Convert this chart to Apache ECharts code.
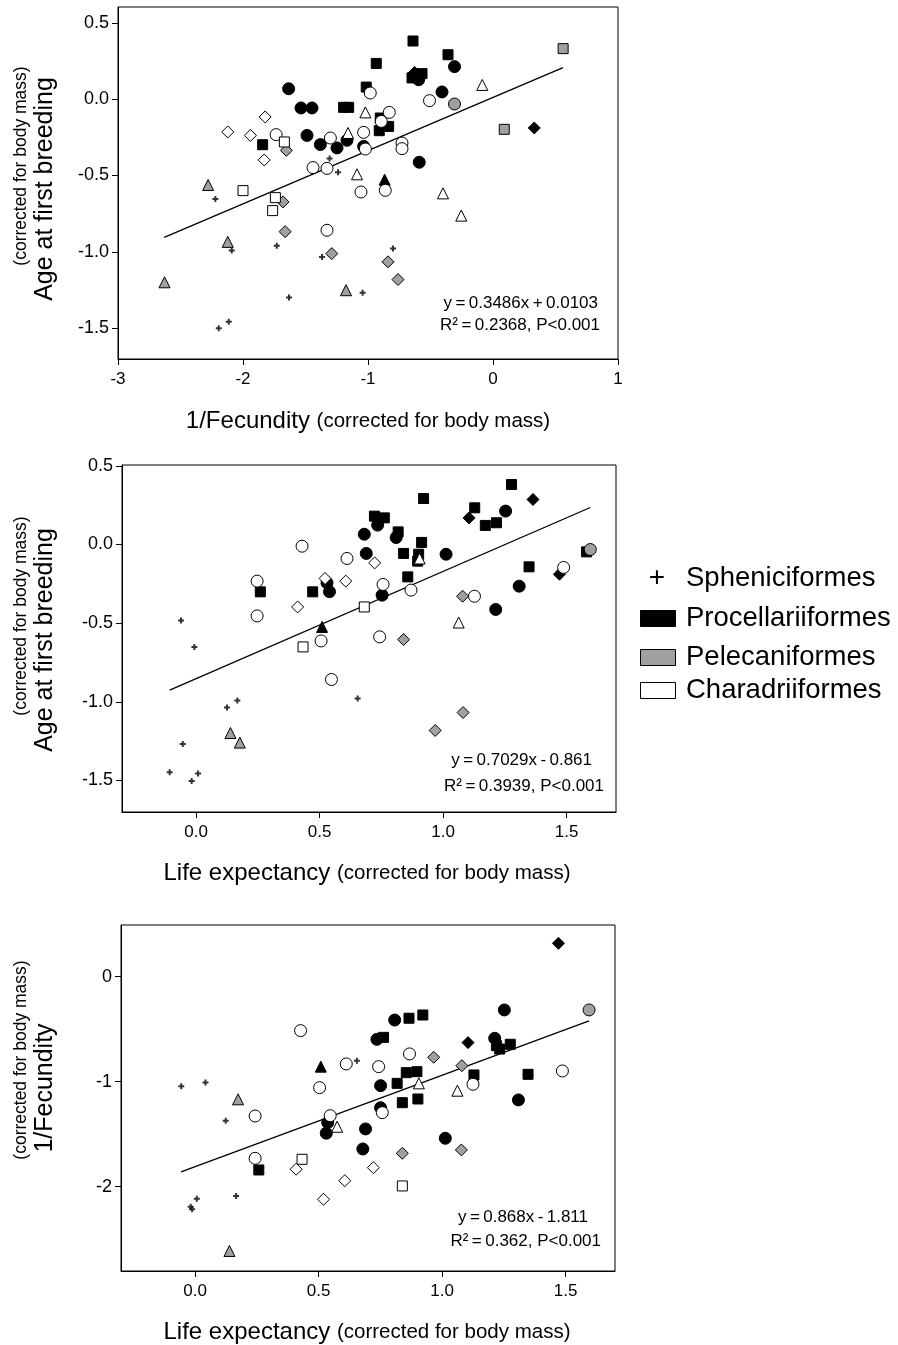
<!DOCTYPE html>
<html>
<head>
<meta charset="utf-8">
<script src="https://cdn.jsdelivr.net/npm/echarts@6/dist/echarts.min.js"></script>
<style>
  html, body { margin: 0; padding: 0; background: #fff; }
  #main { width: 898px; height: 1345px; }
</style>
</head>
<body>
<div id="main"></div>
<script>
// ---- tick values ----
var xTicksFec = [-3, -2, -1, 0, 1];
var yTicksAfb = [-1.5, -1, -0.5, 0, 0.5];
var xTicksLife = [0, 0.5, 1, 1.5];
var yTicksFec = [-2, -1, 0];

// ---- panel 1 : 1/Fecundity vs Age at first breeding ----
var p1Sphen = [[-2.221,-0.654],[-1.307,-0.389],[-1.24,-0.479],[-2.09,-0.992],[-1.73,-0.961],[-1.368,-1.034],[-1.632,-1.3],[-1.043,-1.269],[-2.194,-1.501],[-2.114,-1.459],[-0.8,-0.979]];
var p1ProcCircle = [[-1.635,0.069],[-1.536,-0.057],[-1.448,-0.057],[-1.488,-0.237],[-1.381,-0.297],[-1.248,-0.319],[-1.168,-0.269],[-1.035,-0.309],[-0.308,0.214],[-0.595,0.128],[-0.408,0.048],[-0.59,-0.413]];
var p1ProcSquare = [[-1.195,-0.053],[-1.155,-0.053],[-1.014,0.08],[-1.843,-0.298],[-0.64,0.382],[-0.36,0.292],[-0.934,0.235],[-0.648,0.14],[-0.568,0.168],[-0.902,-0.123],[-0.835,-0.178],[-0.91,-0.206]];
var p1ProcDiamond = [[-0.627,0.176],[0.33,-0.188]];
var p1ProcTriangle = [[-0.867,-0.527]];
var p1PeleCircle = [[-0.308,-0.031]];
var p1PeleSquare = [[0.561,0.332],[0.09,-0.197]];
var p1PeleTriangle = [[-2.279,-0.562],[-2.122,-0.935],[-2.628,-1.2],[-1.176,-1.252]];
var p1PeleDiamond = [[-1.653,-0.335],[-1.68,-0.673],[-1.663,-0.868],[-1.29,-1.012],[-0.84,-1.066],[-0.76,-1.182]];
var p1CharCircle = [[-0.982,0.041],[-1.735,-0.232],[-1.301,-0.254],[-1.035,-0.217],[-1.021,-0.326],[-1.44,-0.448],[-1.328,-0.453],[-1.056,-0.608],[-1.328,-0.859],[-0.862,-0.597],[-0.508,-0.009],[-0.894,-0.145],[-0.83,-0.086],[-0.728,-0.287],[-0.728,-0.324]];
var p1CharSquare = [[-1.669,-0.28],[-2.0,-0.599],[-1.741,-0.645],[-1.763,-0.73]];
var p1CharTriangle = [[-1.021,-0.086],[-1.16,-0.221],[-1.088,-0.492],[-0.086,0.094],[-0.4,-0.617],[-0.254,-0.763]];
var p1CharDiamond = [[-1.823,-0.116],[-2.122,-0.214],[-1.941,-0.237],[-1.831,-0.398]];
var p1Fit = [[-2.63,-0.906],[0.56,0.207]];

// ---- panel 2 : Life expectancy vs Age at first breeding ----
var p2Sphen = [[-0.061,-0.483],[-0.007,-0.651],[0.654,-0.979],[0.167,-0.992],[0.125,-1.036],[-0.054,-1.268],[-0.107,-1.448],[0.008,-1.456],[-0.018,-1.503]];
var p2ProcCircle = [[0.681,0.065],[0.689,-0.057],[0.53,-0.244],[0.54,-0.3],[1.253,0.212],[0.735,0.123],[0.81,0.044],[1.012,-0.062],[0.753,-0.322],[1.308,-0.265],[1.213,-0.413]];
var p2ProcSquare = [[0.26,-0.301],[0.472,-0.301],[1.277,0.381],[0.921,0.292],[1.128,0.233],[1.171,0.121],[1.216,0.138],[0.722,0.18],[0.762,0.169],[0.818,0.08],[0.84,-0.057],[0.913,0.013],[0.901,-0.062],[0.897,-0.106],[0.857,-0.206],[1.348,-0.142],[1.581,-0.047]];
var p2ProcDiamond = [[1.364,0.286],[1.105,0.169],[1.471,-0.189]];
var p2ProcTriangle = [[0.51,-0.524]];
var p2PeleCircle = [[1.596,-0.032]];
var p2PeleTriangle = [[0.139,-1.198],[0.177,-1.259]];
var p2PeleDiamond = [[1.079,-0.329],[0.84,-0.604],[1.081,-1.068],[0.968,-1.182]];
var p2CharCircle = [[0.429,-0.011],[0.611,-0.089],[0.247,-0.233],[0.247,-0.454],[0.506,-0.613],[0.548,-0.858],[0.757,-0.254],[0.87,-0.29],[1.127,-0.329],[1.488,-0.146],[0.743,-0.587]];
var p2CharSquare = [[0.681,-0.397],[0.433,-0.651]];
var p2CharTriangle = [[0.905,-0.089],[1.063,-0.496]];
var p2CharDiamond = [[0.522,-0.216],[0.606,-0.233],[0.411,-0.397],[0.723,-0.117]];
var p2Fit = [[-0.107,-0.926],[1.596,0.235]];

// ---- panel 3 : Life expectancy vs 1/Fecundity ----
var p3Sphen = [[0.655,-0.8],[-0.056,-1.044],[0.042,-1.009],[0.124,-1.371],[0.007,-2.114],[0.166,-2.089],[-0.018,-2.19],[-0.012,-2.215]];
var p3ProcCircle = [[1.252,-0.317],[0.808,-0.413],[0.736,-0.597],[1.213,-0.587],[0.751,-1.038],[1.309,-1.174],[0.751,-1.248],[0.537,-1.39],[0.531,-1.491],[0.69,-1.45],[0.679,-1.641],[1.013,-1.539]];
var p3ProcSquare = [[0.866,-0.396],[0.922,-0.365],[0.763,-0.578],[1.22,-0.657],[1.233,-0.689],[1.276,-0.644],[0.855,-0.914],[0.898,-0.905],[0.818,-1.016],[1.129,-0.936],[1.348,-0.93],[0.839,-1.2],[0.902,-1.165],[0.258,-1.841]];
var p3ProcDiamond = [[1.471,0.318],[1.105,-0.628]];
var p3ProcTriangle = [[0.509,-0.857]];
var p3PeleCircle = [[1.595,-0.317]];
var p3PeleTriangle = [[0.174,-1.168],[0.139,-2.612]];
var p3PeleDiamond = [[0.966,-0.768],[1.08,-0.848],[0.839,-1.682],[1.078,-1.65]];
var p3CharCircle = [[0.427,-0.514],[0.612,-0.831],[0.504,-1.057],[0.243,-1.327],[0.547,-1.324],[0.868,-0.736],[0.743,-0.857],[1.125,-1.025],[1.487,-0.898],[0.758,-1.295],[0.243,-1.73]];
var p3CharSquare = [[0.433,-1.739],[0.839,-1.993]];
var p3CharTriangle = [[0.906,-1.016],[1.062,-1.086],[0.575,-1.429]];
var p3CharDiamond = [[0.409,-1.834],[0.606,-1.943],[0.722,-1.819],[0.52,-2.12]];
var p3Fit = [[-0.057,-1.86],[1.595,-0.42]];

var FONT = 'Liberation Sans, Arial, sans-serif';
var BLACK = '#000';
var GRAY = '#a0a0a0';
var WHITE = '#fff';
var PLUS = 'path://M2,0H4V2H6V4H4V6H2V4H0V2H2Z';

function fmt1(v) { return v.toFixed(1); }
function fmt0(v) { return String(Math.round(v)); }

function xAxisOf(grid, min, max, ticks, formatter) {
    return {
        gridIndex: grid, type: 'value', min: min, max: max,
        axisLine: { show: true, onZero: false, lineStyle: { color: '#000', width: 1 } },
        axisTick: { show: true, length: 6, customValues: ticks, lineStyle: { color: '#000' } },
        axisLabel: { customValues: ticks, formatter: formatter, fontSize: 17, color: '#000', margin: 12, fontFamily: FONT },
        splitLine: { show: false }
    };
}
function yAxisOf(grid, min, max, ticks, formatter) {
    return {
        gridIndex: grid, type: 'value', min: min, max: max,
        axisLine: { show: true, onZero: false, lineStyle: { color: '#000', width: 1 } },
        axisTick: { show: true, length: 6, customValues: ticks, lineStyle: { color: '#000' } },
        axisLabel: { customValues: ticks, formatter: formatter, fontSize: 18, color: '#000', margin: 9, fontFamily: FONT },
        splitLine: { show: false }
    };
}

function pts(grid, data, symbol, fill, size) {
    return {
        type: 'scatter', xAxisIndex: grid, yAxisIndex: grid, data: data,
        symbol: symbol, symbolSize: size, silent: true, z: 3,
        itemStyle: { color: fill, borderColor: '#000', borderWidth: 1, opacity: 1 }
    };
}
function plus(grid, data) {
    return {
        type: 'scatter', xAxisIndex: grid, yAxisIndex: grid, data: data,
        symbol: PLUS, symbolSize: 6, silent: true, z: 3,
        itemStyle: { color: '#000', borderWidth: 0 }
    };
}
function fit(grid, data) {
    return {
        type: 'line', xAxisIndex: grid, yAxisIndex: grid, data: data,
        showSymbol: false, silent: true, z: 2,
        lineStyle: { color: '#000', width: 1.3 }
    };
}

function panelSeries(g, s) {
    return [
        fit(g, s.fit),
        plus(g, s.sphen),
        pts(g, s.procCircle, 'circle', BLACK, 12),
        pts(g, s.procSquare, 'rect', BLACK, 10),
        pts(g, s.procDiamond, 'diamond', BLACK, 12),
        pts(g, s.procTriangle, 'triangle', BLACK, 11),
        pts(g, s.peleCircle || [], 'circle', GRAY, 12),
        pts(g, s.peleSquare || [], 'rect', GRAY, 10),
        pts(g, s.peleTriangle, 'triangle', GRAY, 11),
        pts(g, s.peleDiamond, 'diamond', GRAY, 12),
        pts(g, s.charCircle, 'circle', WHITE, 12),
        pts(g, s.charSquare, 'rect', WHITE, 10),
        pts(g, s.charTriangle, 'triangle', WHITE, 11),
        pts(g, s.charDiamond, 'diamond', WHITE, 12)
    ];
}

var series = [].concat(
    panelSeries(0, { fit: p1Fit, sphen: p1Sphen, procCircle: p1ProcCircle, procSquare: p1ProcSquare, procDiamond: p1ProcDiamond, procTriangle: p1ProcTriangle,
        peleCircle: p1PeleCircle, peleSquare: p1PeleSquare, peleTriangle: p1PeleTriangle, peleDiamond: p1PeleDiamond,
        charCircle: p1CharCircle, charSquare: p1CharSquare, charTriangle: p1CharTriangle, charDiamond: p1CharDiamond }),
    panelSeries(1, { fit: p2Fit, sphen: p2Sphen, procCircle: p2ProcCircle, procSquare: p2ProcSquare, procDiamond: p2ProcDiamond, procTriangle: p2ProcTriangle,
        peleCircle: p2PeleCircle, peleTriangle: p2PeleTriangle, peleDiamond: p2PeleDiamond,
        charCircle: p2CharCircle, charSquare: p2CharSquare, charTriangle: p2CharTriangle, charDiamond: p2CharDiamond }),
    panelSeries(2, { fit: p3Fit, sphen: p3Sphen, procCircle: p3ProcCircle, procSquare: p3ProcSquare, procDiamond: p3ProcDiamond, procTriangle: p3ProcTriangle,
        peleCircle: p3PeleCircle, peleTriangle: p3PeleTriangle, peleDiamond: p3PeleDiamond,
        charCircle: p3CharCircle, charSquare: p3CharSquare, charTriangle: p3CharTriangle, charDiamond: p3CharDiamond })
);

function txt(x, y, text, size, opts) {
    opts = opts || {};
    return {
        type: 'text', x: x, y: y, rotation: opts.rotation || 0,
        style: {
            text: text, fontSize: size, fontFamily: FONT, fill: '#000',
            align: opts.align || 'left', verticalAlign: 'middle', rich: opts.rich
        }
    };
}
function richTitle(x, y, big, small) {
    return txt(x, y, '{a|' + big + '} {b|' + small + '}', 24, {
        align: 'center',
        rich: { a: { fontSize: 24, fontFamily: FONT }, b: { fontSize: 20.5, fontFamily: FONT } }
    });
}

var graphic = [
    // x titles
    richTitle(368, 421, '1/Fecundity', '(corrected for body mass)'),
    richTitle(367, 873, 'Life expectancy', '(corrected for body mass)'),
    richTitle(367, 1332, 'Life expectancy', '(corrected for body mass)'),
    // y titles
    txt(21, 166, '(corrected for body mass)', 17.5, { align: 'center', rotation: Math.PI / 2 }),
    txt(45, 189, 'Age at first breeding', 25, { align: 'center', rotation: Math.PI / 2 }),
    txt(21, 616, '(corrected for body mass)', 17.5, { align: 'center', rotation: Math.PI / 2 }),
    txt(45, 640, 'Age at first breeding', 25, { align: 'center', rotation: Math.PI / 2 }),
    txt(21, 1060, '(corrected for body mass)', 17.5, { align: 'center', rotation: Math.PI / 2 }),
    txt(45, 1088, '1/Fecundity', 25, { align: 'center', rotation: Math.PI / 2 }),
    // regression equations
    txt(598, 303, 'y\u2009=\u20090.3486x\u2009+\u20090.0103', 17, { align: 'right' }),
    txt(600, 325, 'R\u00b2\u2009=\u20090.2368, P<0.001', 17, { align: 'right' }),
    txt(592, 760, 'y\u2009=\u20090.7029x\u2009-\u20090.861', 17, { align: 'right' }),
    txt(604, 786, 'R\u00b2\u2009=\u20090.3939, P<0.001', 17, { align: 'right' }),
    txt(588, 1217, 'y\u2009=\u20090.868x\u2009-\u20091.811', 17, { align: 'right' }),
    txt(601, 1241, 'R\u00b2\u2009=\u20090.362, P<0.001', 17, { align: 'right' }),
    // legend
    txt(657, 578, '+', 28, { align: 'center' }),
    txt(686, 578, 'Spheniciformes', 27.5),
    { type: 'rect', shape: { x: 640.5, y: 610.5, width: 35, height: 16 }, style: { fill: BLACK, stroke: '#000', lineWidth: 1 } },
    txt(686, 618, 'Procellariiformes', 27.5),
    { type: 'rect', shape: { x: 640.5, y: 649.5, width: 35, height: 16 }, style: { fill: GRAY, stroke: '#000', lineWidth: 1 } },
    txt(686, 657, 'Pelecaniformes', 27.5),
    { type: 'rect', shape: { x: 640.5, y: 682.5, width: 35, height: 16 }, style: { fill: WHITE, stroke: '#000', lineWidth: 1 } },
    txt(686, 690, 'Charadriiformes', 27.5)
];

var chart = echarts.init(document.getElementById('main'), null, { renderer: 'canvas' });
chart.setOption({
    animation: false,
    backgroundColor: '#fff',
    textStyle: { fontFamily: FONT },
    grid: [
        { left: 118, top: 7, width: 500, height: 352, show: true, borderColor: '#000', borderWidth: 1, backgroundColor: 'transparent' },
        { left: 122, top: 465, width: 494, height: 347, show: true, borderColor: '#000', borderWidth: 1, backgroundColor: 'transparent' },
        { left: 121, top: 925, width: 494, height: 346, show: true, borderColor: '#000', borderWidth: 1, backgroundColor: 'transparent' }
    ],
    xAxis: [
        xAxisOf(0, -3, 1, xTicksFec, fmt0),
        xAxisOf(1, -0.3, 1.7, xTicksLife, fmt1),
        xAxisOf(2, -0.3, 1.7, xTicksLife, fmt1)
    ],
    yAxis: [
        yAxisOf(0, -1.703, 0.605, yTicksAfb, fmt1),
        yAxisOf(1, -1.7, 0.505, yTicksAfb, fmt1),
        yAxisOf(2, -2.803, 0.492, yTicksFec, fmt0)
    ],
    graphic: graphic,
    series: series
});
</script>
</body>
</html>
